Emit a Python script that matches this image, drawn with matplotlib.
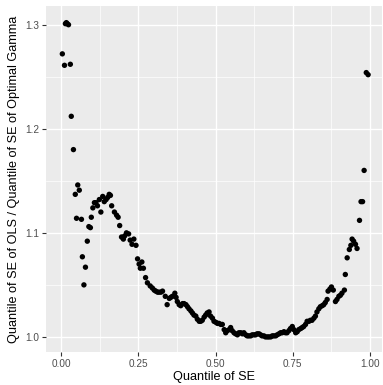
import numpy as np
import matplotlib
matplotlib.use("Agg")
import matplotlib.pyplot as plt

# quantile level and ratio of SE quantiles
quantile = [0.003, 0.010, 0.013, 0.016, 0.019, 0.023, 0.029, 0.032, 0.039, 0.045,
            0.049, 0.053, 0.058, 0.065, 0.068, 0.073, 0.078, 0.084, 0.089, 0.094,
            0.097, 0.102, 0.107, 0.112, 0.117, 0.123, 0.128, 0.134, 0.139, 0.145,
            0.150, 0.155, 0.159, 0.163, 0.172, 0.179, 0.184, 0.189, 0.195, 0.201,
            0.205, 0.211, 0.218, 0.223, 0.229, 0.235, 0.242, 0.247, 0.252, 0.256,
            0.261, 0.266, 0.273, 0.279, 0.288, 0.295, 0.301, 0.306, 0.312, 0.317,
            0.323, 0.328, 0.337, 0.343, 0.350, 0.355, 0.360, 0.368, 0.372, 0.376,
            0.382, 0.387, 0.393, 0.398, 0.404, 0.409, 0.414, 0.420, 0.425, 0.430,
            0.436, 0.441, 0.447, 0.452, 0.457, 0.463, 0.468, 0.473, 0.479, 0.484,
            0.490, 0.495, 0.501, 0.506, 0.511, 0.517, 0.522, 0.528, 0.533, 0.538,
            0.544, 0.549, 0.554, 0.560, 0.565, 0.571, 0.576, 0.582, 0.587, 0.592,
            0.598, 0.603, 0.608, 0.614, 0.619, 0.625, 0.630, 0.635, 0.641, 0.646,
            0.651, 0.657, 0.662, 0.668, 0.673, 0.679, 0.684, 0.689, 0.695, 0.700,
            0.706, 0.711, 0.716, 0.722, 0.727, 0.732, 0.738, 0.743, 0.749, 0.754,
            0.760, 0.765, 0.770, 0.776, 0.781, 0.786, 0.792, 0.797, 0.803, 0.808,
            0.813, 0.819, 0.824, 0.829, 0.835, 0.840, 0.846, 0.851, 0.856, 0.862,
            0.865, 0.871, 0.876, 0.882, 0.889, 0.894, 0.900, 0.905, 0.910, 0.918,
            0.921, 0.927, 0.934, 0.939, 0.943, 0.948, 0.954, 0.959, 0.967, 0.972,
            0.977, 0.982, 0.989, 0.995]
ratio = [1.272, 1.261, 1.301, 1.302, 1.301, 1.300, 1.262, 1.212, 1.180, 1.137,
         1.114, 1.146, 1.141, 1.113, 1.077, 1.050, 1.067, 1.092, 1.106, 1.105,
         1.115, 1.124, 1.129, 1.129, 1.126, 1.132, 1.120, 1.135, 1.130, 1.132,
         1.134, 1.137, 1.136, 1.126, 1.120, 1.117, 1.115, 1.107, 1.096, 1.094,
         1.097, 1.100, 1.099, 1.093, 1.089, 1.094, 1.088, 1.075, 1.070, 1.066,
         1.072, 1.066, 1.057, 1.052, 1.049, 1.047, 1.045, 1.044, 1.043, 1.043,
         1.043, 1.044, 1.039, 1.031, 1.037, 1.038, 1.039, 1.042, 1.038, 1.034,
         1.031, 1.030, 1.032, 1.032, 1.031, 1.029, 1.027, 1.025, 1.023, 1.021,
         1.020, 1.017, 1.015, 1.015, 1.016, 1.019, 1.021, 1.023, 1.024, 1.020,
         1.018, 1.015, 1.014, 1.013, 1.013, 1.012, 1.012, 1.007, 1.004, 1.006,
         1.007, 1.009, 1.006, 1.004, 1.003, 1.002, 1.004, 1.004, 1.003, 1.004,
         1.002, 1.001, 1.001, 1.001, 1.002, 1.002, 1.002, 1.003, 1.003, 1.002,
         1.001, 1.001, 1.000, 1.000, 1.000, 1.000, 1.001, 1.001, 1.001, 1.002,
         1.003, 1.004, 1.004, 1.005, 1.004, 1.004, 1.006, 1.008, 1.010, 1.007,
         1.004, 1.005, 1.007, 1.008, 1.009, 1.010, 1.012, 1.015, 1.015, 1.016,
         1.016, 1.018, 1.020, 1.024, 1.027, 1.029, 1.030, 1.031, 1.033, 1.036,
         1.044, 1.046, 1.048, 1.045, 1.034, 1.036, 1.039, 1.040, 1.042, 1.045,
         1.060, 1.076, 1.084, 1.088, 1.094, 1.092, 1.089, 1.085, 1.112, 1.130,
         1.130, 1.160, 1.254, 1.252]

x_ticks = [0.0, 0.25, 0.5, 0.75, 1.0]
x_labels = ["0.00", "0.25", "0.50", "0.75", "1.00"]
y_ticks = [1.0, 1.1, 1.2, 1.3]
y_labels = ["1.0", "1.1", "1.2", "1.3"]

plt.rcParams['font.family'] = ['Liberation Sans', 'DejaVu Sans']

fig = plt.figure(figsize=(3.83, 3.85), dpi=100)
ax = fig.add_axes([46/383, 1 - 352/385, 336/383, 346/385])
ax.set_facecolor("#EBEBEB")

ax.set_xlim(-0.05, 1.04)
ax.set_ylim(0.9855, 1.318)

ax.set_xticks(x_ticks)
ax.set_xticklabels(x_labels)
ax.set_yticks(y_ticks)
ax.set_yticklabels(y_labels)
ax.set_xticks([0.125, 0.375, 0.625, 0.875], minor=True)
ax.set_yticks([1.05, 1.15, 1.25], minor=True)

ax.grid(True, which="major", color="white", linewidth=1.0)
ax.grid(True, which="minor", color="white", linewidth=0.5)
ax.set_axisbelow(True)
for s in ax.spines.values():
    s.set_visible(False)

ax.tick_params(which="major", length=2.7, width=0.8, color="#333333",
               labelcolor="#4D4D4D", labelsize=7.2, pad=2)
ax.tick_params(which="minor", length=0)

ax.scatter(quantile, ratio, s=15, color="black", edgecolors="none", zorder=3)

ax.set_xlabel("Quantile of SE", fontsize=9.1, labelpad=2)
ax.set_ylabel("Quantile of SE of OLS / Quantile of SE of Optimal Gamma",
              fontsize=9.1, labelpad=4)

fig.savefig("out.png", dpi=100)
